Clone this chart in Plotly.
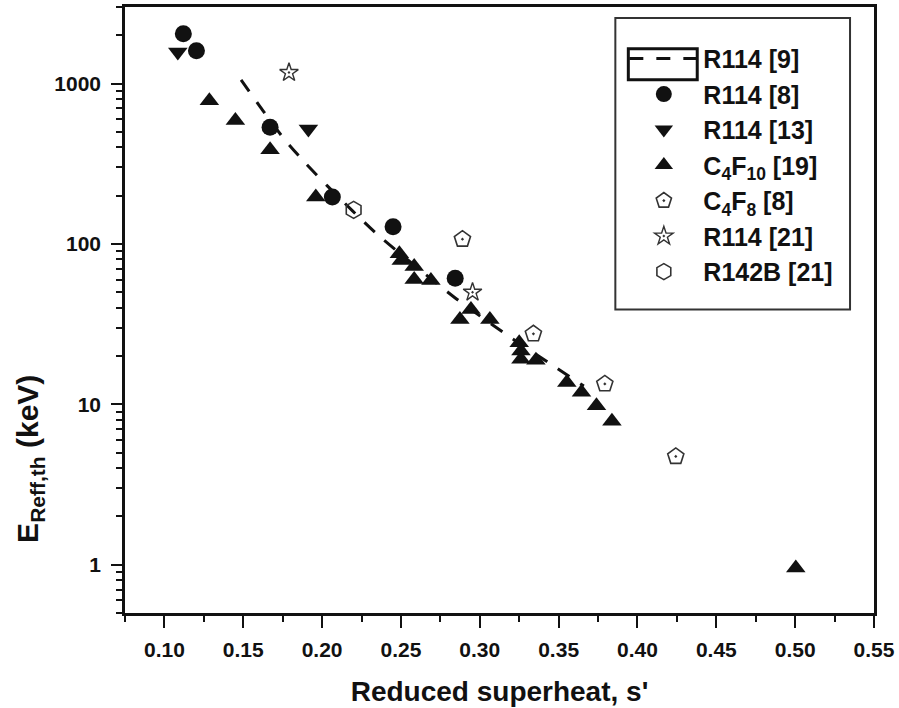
import plotly.graph_objects as go
import math

# ---------------- data ----------------
r114_9_x = [0.1486, 0.1621, 0.176, 0.1894, 0.2033, 0.2344, 0.2832, 0.3155, 0.3478, 0.366]
r114_9_y = [1054, 685, 450, 319, 230, 116, 47, 27.8, 17.1, 13.0]

r114_8_x = [0.112, 0.1203, 0.167, 0.2065, 0.245, 0.2844]
r114_8_y = [2040, 1600, 533, 196, 128, 61]

r114_13_x = [0.1085, 0.1913]
r114_13_y = [1573, 521]

c4f10_x = [0.1285, 0.145, 0.167, 0.196, 0.249, 0.2502, 0.2584, 0.2584, 0.269,
           0.2874, 0.2944, 0.3064, 0.325, 0.3261, 0.3261, 0.3356, 0.3552, 0.3645,
           0.374, 0.3838, 0.5004]
c4f10_y = [782, 588, 386, 196, 87, 78.7, 72.3, 60.1, 59.2,
           33.8, 39, 33.8, 24.2, 21.5, 19.1, 18.8, 13.7, 11.9,
           9.8, 7.83, 0.953]

c4f8_x = [0.289, 0.334, 0.3793, 0.4243]
c4f8_y = [107, 27.5, 13.4, 4.73]

r114_21_x = [0.179, 0.2954]
r114_21_y = [1170, 50]

r142b_x = [0.22]
r142b_y = [163]

x_tickvals = [0.10, 0.15, 0.20, 0.25, 0.30, 0.35, 0.40, 0.45, 0.50, 0.55]
x_ticktext = ["0.10", "0.15", "0.20", "0.25", "0.30", "0.35", "0.40", "0.45", "0.50", "0.55"]
y_tickvals = [1, 10, 100, 1000]
y_ticktext = ["1", "10", "100", "1000"]
y_minor = [m * 10 ** e for e in range(-1, 4) for m in range(2, 10) if 0.5 <= m * 10 ** e <= 3000]

FONT = "Liberation Sans, Arial, sans-serif"
INK = "#111111"

fig = go.Figure()

fig.add_trace(go.Scatter(
    x=r114_9_x, y=r114_9_y, mode="lines", name="R114 [9]",
    line=dict(color=INK, width=3, dash="14px,13px", shape="spline", smoothing=0.6)))

fig.add_trace(go.Scatter(
    x=r114_8_x, y=r114_8_y, mode="markers", name="R114 [8]",
    marker=dict(symbol="circle", size=17, color=INK, line=dict(width=0))))

fig.add_trace(go.Scatter(
    x=r114_13_x, y=r114_13_y, mode="markers", name="R114 [13]",
    marker=dict(symbol="triangle-down", size=17, color=INK, line=dict(width=0))))

fig.add_trace(go.Scatter(
    x=c4f10_x, y=c4f10_y, mode="markers", name="C<sub>4</sub>F<sub>10</sub> [19]",
    marker=dict(symbol="triangle-up", size=17, color=INK, line=dict(width=0))))

fig.add_trace(go.Scatter(
    x=c4f8_x, y=c4f8_y, mode="markers", name="C<sub>4</sub>F<sub>8</sub> [8]",
    marker=dict(symbol="pentagon-open-dot", size=17, color="#333333",
                line=dict(width=1.6, color="#333333"))))

fig.add_trace(go.Scatter(
    x=r114_21_x, y=r114_21_y, mode="markers", name="R114 [21]",
    marker=dict(symbol="star-open-dot", size=14, color="#333333",
                line=dict(width=1.4, color="#333333"))))

fig.add_trace(go.Scatter(
    x=r142b_x, y=r142b_y, mode="markers", name="R142B [21]",
    marker=dict(symbol="hexagon-open", size=17, color="#333333",
                line=dict(width=1.6, color="#333333"))))

L, R, T, B = 125, 24, 4, 95
W, H = 899, 708
pw, ph = W - L - R, H - T - B


def px_x(p):
    return (p - L) / pw


def px_y(p):
    return (H - B - p) / ph


fig.update_layout(
    width=W, height=H,
    margin=dict(l=L, r=R, t=T, b=B),
    paper_bgcolor="white", plot_bgcolor="white",
    font=dict(family=FONT, color=INK),
    showlegend=True,
    legend=dict(
        x=px_x(625), y=px_y(33), xanchor="left", yanchor="top",
        bgcolor="rgba(0,0,0,0)", borderwidth=0,
        font=dict(family=FONT, size=25, color=INK, weight="bold"),
        itemwidth=69, tracegroupgap=0,
    ),
    xaxis=dict(
        range=[0.075, 0.55],
        showline=True, linewidth=2.5, linecolor=INK, mirror=True,
        showgrid=False, zeroline=False,
        tickmode="array", tickvals=x_tickvals, ticktext=x_ticktext,
        ticks="outside", ticklen=12, tickwidth=2, tickcolor=INK,
        tickfont=dict(family=FONT, size=21, color=INK, weight="bold"),
        ticklabelstandoff=4,
        minor=dict(ticks="outside", ticklen=6, tickwidth=2, tickcolor=INK,
                   tick0=0.075, dtick=0.025, showgrid=False),
        title=dict(text="Reduced superheat, s'", standoff=22,
                   font=dict(family=FONT, size=28, color=INK, weight="bold")),
    ),
    yaxis=dict(
        type="log", range=[math.log10(0.5), math.log10(3000)],
        showline=True, linewidth=2.5, linecolor=INK, mirror=True,
        showgrid=False, zeroline=False,
        tickmode="array", tickvals=y_tickvals, ticktext=y_ticktext,
        ticks="outside", ticklen=11, tickwidth=2, tickcolor=INK,
        tickfont=dict(family=FONT, size=21, color=INK, weight="bold"),
        ticklabelstandoff=6,
        minor=dict(ticks="outside", ticklen=6, tickwidth=1.5, tickcolor=INK,
                   tickmode="array", tickvals=y_minor, showgrid=False),
    ),
    shapes=[
        # legend frame
        dict(type="rect", xref="paper", yref="paper",
             x0=px_x(616), x1=px_x(851), y0=px_y(308), y1=px_y(15),
             line=dict(color="#333333", width=2), fillcolor="rgba(0,0,0,0)", layer="above"),
        # highlight box around the line sample in the legend
        dict(type="rect", xref="paper", yref="paper",
             x0=px_x(629), x1=px_x(698), y0=px_y(77), y1=px_y(46),
             line=dict(color=INK, width=3), fillcolor="rgba(0,0,0,0)", layer="above"),
    ],
    annotations=[
        dict(text="E<sub>Reff,th</sub> (keV)", textangle=-90,
             xref="paper", yref="paper", x=px_x(30), y=px_y(458),
             xanchor="center", yanchor="middle", showarrow=False,
             font=dict(family=FONT, size=30, color=INK, weight="bold")),
    ],
)

fig.write_html("out.html")
